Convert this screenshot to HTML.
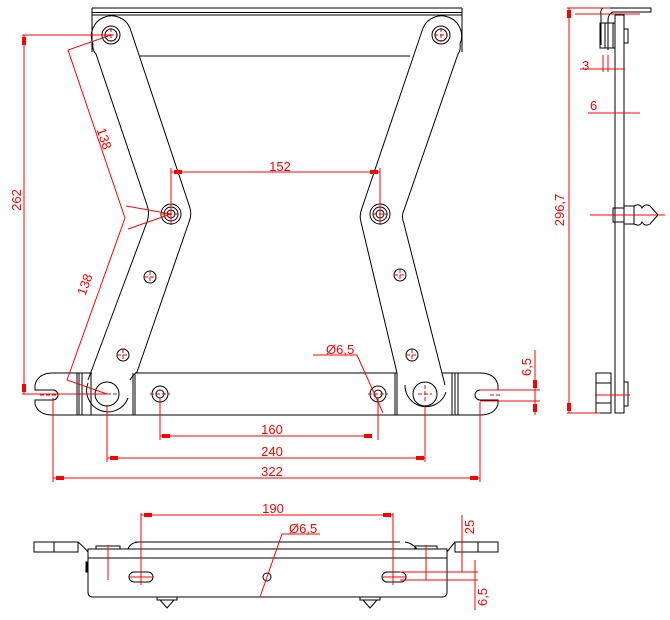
<!DOCTYPE html>
<html><head><style>
html,body{margin:0;padding:0;background:#fff;}
svg{display:block;}
text{font-family:"Liberation Sans",sans-serif;font-size:13px;fill:#f00;}
</style></head><body>
<svg width="670" height="620" viewBox="0 0 670 620" xmlns="http://www.w3.org/2000/svg">
<g fill="none" stroke="#000" stroke-width="1">
<path d="M92,8 H462 M92,12.5 H462 M92,15 H462 M92,8 V52 M462,8 V52 M140,56 H410"/>
<path d="M93,44 A19,19 0 0 1 130,28 L190,208 Q192,215 189,222 L137,372"/>
<path d="M93,44 Q92,50 96,54 L147,205 Q150,213 147,222 L88,380"/>
<path d="M88,383 A21,21 0 0 0 128,398"/>
<path d="M130,380 A24,24 0 0 1 137,372"/>
<path d="M460,44 A19,19 0 0 0 423,28 L362,208 Q359,215 361,222 L397,373"/>
<path d="M460,44 Q461,50 458,54 L404,210 Q401,216 404,224 L445,385"/>
<path d="M405,385 A21,21 0 0 0 446,392"/>
<circle cx="111" cy="35" r="9"/><circle cx="111" cy="35" r="6"/>
<circle cx="441" cy="35" r="9"/><circle cx="441" cy="35" r="6"/>
<circle cx="171" cy="214" r="10"/><circle cx="171" cy="214" r="7"/><circle cx="171" cy="214" r="4"/>
<circle cx="380" cy="214" r="10"/><circle cx="380" cy="214" r="7"/><circle cx="380" cy="214" r="4"/>
<circle cx="150" cy="277" r="6"/><circle cx="400" cy="275" r="6"/>
<circle cx="123" cy="355" r="6"/><circle cx="412" cy="355" r="6"/>
<circle cx="107" cy="394" r="12"/><circle cx="425" cy="394" r="12"/>
<circle cx="160" cy="394" r="8"/><circle cx="160" cy="394" r="4"/>
<circle cx="378" cy="394" r="8"/><circle cx="378" cy="394" r="4"/>
<path d="M53,415 H480 M135,373 H397 M53,373 H92 M442,373 H480"/>
<path d="M53,373 Q38,373 35,385 L35,390 H53 A5,5 0 0 1 53,400 H35 L35,404 Q38,415 53,415"/>
<path d="M480,373 Q495,373 498,385 L498,390 H480 A5,5 0 0 0 480,400 H498 L498,404 Q495,415 480,415"/>
<path d="M77,373 V415 M79,373 V415 M82,373 V415 M91,373 V415 M133,373 V415 M135,373 V415 M395,373 V415 M397,373 V415 M452,373 V415 M455,373 V415 M458,373 V415"/>
<path d="M615,15 H624 V413 H615 Z"/>
<path d="M610,8 H651 V12 H613 Q608,14 608,20 V50 M603,8 Q600,10 601,15 V45"/>
<rect x="600" y="23" width="15" height="25"/><rect x="605" y="23" width="8" height="25"/>
<rect x="624" y="29" width="4" height="14"/>
<rect x="613" y="208" width="11" height="14"/><rect x="624" y="206" width="10" height="18"/>
<path d="M634,206 Q640,203 642,208 Q645,203 650,206 L658,215 L650,224 Q645,227 642,222 Q640,227 634,224"/>
<rect x="596" y="373" width="15" height="40"/><rect x="596" y="383" width="15" height="20"/>
<rect x="624" y="382" width="4" height="24"/>
<path d="M92,549 H447 V592 Q447,597 442,597 H93 Q88,597 88,592 V549 Z M88,558 H447"/>
<path d="M135,542 H400 M128,549 Q130,543 138,542 M405,542 Q412,543 417,549"/>
<rect x="34" y="542" width="44" height="10"/><path d="M54,542 V552 M78,542 Q85,548 88,552"/>
<rect x="455" y="542" width="43" height="10"/><path d="M478,542 V552 M455,542 Q450,548 447,552"/>
<rect x="96" y="546" width="24" height="3"/><rect x="415" y="546" width="22" height="3"/>
<rect x="86" y="562" width="2" height="10" fill="#000"/>
<rect x="129" y="572" width="24" height="10" rx="5"/><rect x="382" y="572" width="24" height="10" rx="5"/>
<circle cx="267" cy="577" r="4"/>
<path d="M157,597 V600 H177 V597 M160,600 L167,608 L174,600 M360,597 V600 H380 V597 M363,600 L370,608 L377,600"/>
</g>
<g fill="none" stroke="#f00" stroke-width="1">
<path d="M104,35 H118 M111,28 V42 M434,35 H448 M441,28 V42 M162,214 H180 M373,214 H388 M144,277 H156 M150,271 V283 M394,275 H406 M400,269 V281 M117,355 H129 M123,349 V361 M406,355 H418 M412,349 V361 M95,394 H119 M418,394 H432 M425,385 V403 M150,394 H170 M368,394 H388 M40,395 H58 M490,395 H500" stroke-dasharray="4,2"/>
<path d="M22,35 H111 M22,394 H108 M24,35 V394"/>
<path d="M111,35 L68,50 L125,218 M171,214 L128,229 L171,214 L126,206 M125,218 L67,380 M67,380 L107,394"/>
<path d="M171,172 H380 M171,168 V225 M380,168 V225"/>
<path d="M313,355 H357 L383,413"/>
<path d="M160,398 V440 M378,398 V440 M160,436 H372 M107,405 V462 M425,405 V462 M107,458 H425 M53,398 V482 M480,402 V482 M53,478 H480"/>
<path d="M480,390 H540 M480,401 H540 M535,350 V415"/>
<path d="M567,8 H610 M567,413 H600 M569,8 V413 M580,69 H625 M603,55 V72 M608,55 V72 M588,113 H640 M575,14 H640 M590,215 H665 M595,395 H630"/>
<path d="M141,513 V585 M393,513 V585 M141,515 H393 M282,534 H320 L282,534 L260,597 M129,577 H153 M382,577 H406 M108,545 V580 M426,545 V580 M400,572 H478 M400,580 H478 M462,515 V572 M475,560 V610"/>
</g>
<g fill="#f00">
<rect x="22" y="37" width="4" height="8"/><rect x="22" y="384" width="4" height="8"/>
<rect x="174" y="170" width="8" height="4"/><rect x="370" y="170" width="8" height="4"/>
<rect x="162" y="434" width="8" height="4"/><rect x="364" y="434" width="8" height="4"/>
<rect x="110" y="456" width="8" height="4"/><rect x="416" y="456" width="8" height="4"/>
<rect x="56" y="476" width="8" height="4"/><rect x="470" y="476" width="8" height="4"/>
<rect x="533" y="380" width="4" height="8"/><rect x="533" y="404" width="4" height="8"/>
<rect x="144" y="513" width="8" height="4"/><rect x="383" y="513" width="8" height="4"/>
<rect x="567" y="10" width="4" height="8"/><rect x="567" y="403" width="4" height="8"/>
</g>
<text x="280" y="171" text-anchor="middle">152</text>
<text x="272" y="434" text-anchor="middle">160</text>
<text x="272" y="456" text-anchor="middle">240</text>
<text x="272" y="476" text-anchor="middle">322</text>
<text x="273" y="513" text-anchor="middle">190</text>
<text x="326" y="354">Ø6,5</text>
<text x="289" y="533">Ø6,5</text>
<text x="582" y="70">3</text>
<text x="590" y="110">6</text>
<text transform="translate(21,200) rotate(-90)" text-anchor="middle">262</text>
<text transform="translate(564,210) rotate(-90)" text-anchor="middle">296,7</text>
<text transform="translate(531,367) rotate(-90)" text-anchor="middle">6,5</text>
<text transform="translate(474,527) rotate(-90)" text-anchor="middle">25</text>
<text transform="translate(487,597) rotate(-90)" text-anchor="middle">6,5</text>
<text transform="translate(100,140) rotate(72)" text-anchor="middle">138</text>
<text transform="translate(89,286) rotate(-70)" text-anchor="middle">138</text>
</svg>
</body></html>
